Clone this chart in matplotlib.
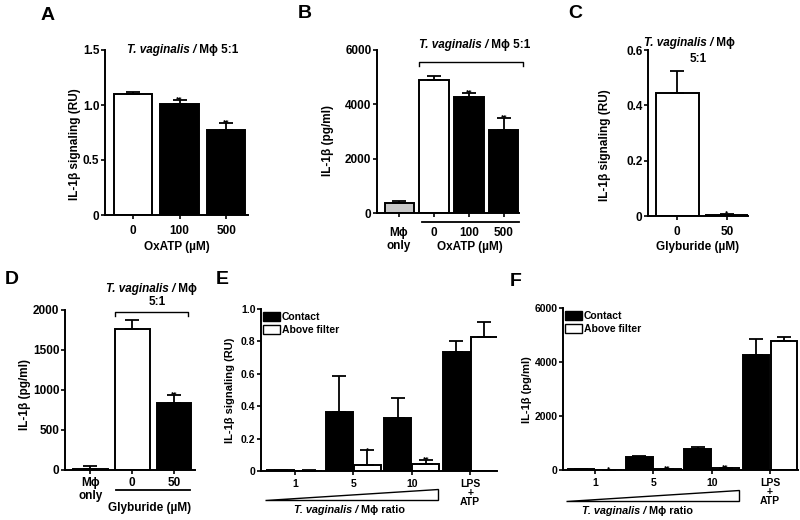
import numpy as np
import matplotlib
matplotlib.use("Agg")
import matplotlib.pyplot as plt
import matplotlib.transforms as mtransforms
from matplotlib.lines import Line2D
from matplotlib.patches import Polygon, Patch

plt.rcParams['font.family'] = ['Liberation Sans', 'DejaVu Sans']
plt.rcParams['font.weight'] = 'bold'
plt.rcParams['axes.labelweight'] = 'bold'

MPHI = 'M\u03d5'

# --- данные ---
# A: IL-1b signaling, OxATP
a_labels = ['0', '100', '500']
a_vals = [1.10, 1.01, 0.77]
a_err = [0.02, 0.04, 0.065]
a_sig = ['', '**', '**']
a_colors = ['white', 'black', 'black']
a_yticks = [0, 0.5, 1.0, 1.5]
a_yticklabels = ['0', '0.5', '1.0', '1.5']

# B: IL-1b pg/ml, OxATP
b_labels = [MPHI + '\nonly', '0', '100', '500']
b_vals = [350, 4880, 4270, 3060]
b_err = [100, 150, 150, 430]
b_sig = ['', '', '**', '**']
b_colors = ['#c8c8c8', 'white', 'black', 'black']
b_yticks = [0, 2000, 4000, 6000]

# C: IL-1b signaling, glyburide
c_labels = ['0', '50']
c_vals = [0.445, 0.003]
c_err = [0.08, 0.004]
c_sig = ['', '*']
c_colors = ['white', 'black']
c_yticks = [0, 0.2, 0.4, 0.6]
c_yticklabels = ['0', '0.2', '0.4', '0.6']

# D: IL-1b pg/ml, glyburide
d_labels = [MPHI + '\nonly', '0', '50']
d_vals = [15, 1760, 840]
d_err = [30, 110, 100]
d_sig = ['', '', '**']
d_colors = ['#c8c8c8', 'white', 'black']
d_yticks = [0, 500, 1000, 1500, 2000]

# E: contact vs above filter, RU
e_groups = ['1', '5', '10', 'LPS\n+\nATP']
e_contact = [0.005, 0.365, 0.33, 0.735]
e_contact_err = [0.002, 0.22, 0.12, 0.07]
e_above = [0.003, 0.037, 0.043, 0.827]
e_above_err = [0.002, 0.09, 0.025, 0.09]
e_above_sig = ['', '*', '**', '']
e_yticks = [0, 0.2, 0.4, 0.6, 0.8, 1.0]
e_yticklabels = ['0', '0.2', '0.4', '0.6', '0.8', '1.0']

# F: contact vs above filter, pg/ml
f_groups = ['1', '5', '10', 'LPS\n+\nATP']
f_contact = [30, 465, 760, 4260]
f_contact_err = [10, 70, 100, 580]
f_above = [10, 30, 60, 4780]
f_above_err = [5, 10, 15, 150]
f_above_sig = ['*', '**', '**', '']
f_yticks = [0, 2000, 4000, 6000]

W, H = 800, 520
fig = plt.figure(figsize=(8, 5.2), dpi=100)
px = mtransforms.Affine2D().scale(1 / W, -1 / H).translate(0, 1) + fig.transFigure


def mk_ax(l, t, r, b):
    return fig.add_axes([l / W, 1 - b / H, (r - l) / W, (b - t) / H])


def style(ax, xpad=2, size=8.5):
    for s in ['top', 'right']:
        ax.spines[s].set_visible(False)
    for s in ['left', 'bottom']:
        ax.spines[s].set_linewidth(1.4)
    ax.tick_params(axis='y', width=1.2, length=3, labelsize=size, pad=1)
    ax.tick_params(axis='x', width=1.2, length=3, labelsize=size, pad=xpad)


def bars(ax, x, vals, err, colors, width, sig, star_size=6):
    ax.bar(x, vals, width, color=colors, edgecolor='black', linewidth=1.4, zorder=2)
    ax.errorbar(x, vals, yerr=[np.zeros(len(vals)), err], fmt='none', ecolor='black',
                elinewidth=1.3, capsize=5, capthick=1.3, zorder=3)
    for xi, v, e, s in zip(x, vals, err, sig):
        if s:
            ax.annotate(s, (xi, v + e), xytext=(0, -2.5), textcoords='offset points',
                        ha='center', va='bottom', fontsize=star_size)


def txt(x, y, s, **kw):
    kw.setdefault('ha', 'center')
    kw.setdefault('va', 'center')
    kw.setdefault('fontsize', 8.5)
    fig.text(x, y, s, transform=px, **kw)


def mixed(x_split, y, ital, rest, size=8.5):
    # italic часть справа до x_split, обычная слева от него
    txt(x_split, y, ital, ha='right', style='italic', fontsize=size)
    txt(x_split, y, rest, ha='left', fontsize=size)


def line(xs, ys, lw=1.0):
    fig.add_artist(Line2D(xs, ys, transform=px, color='black', lw=lw))


# ---------- A ----------
ax = mk_ax(105, 50, 248, 215)
xa = np.arange(len(a_vals))
bars(ax, xa, a_vals, a_err, a_colors, 0.82, a_sig)
ax.set_xlim(-0.6, 2.47)
ax.set_ylim(0, 1.5)
ax.set_yticks(a_yticks, a_yticklabels)
ax.set_xticks(xa, a_labels)
style(ax, xpad=4)
txt(48, 15, 'A', fontsize=14)
txt(75, 144, 'IL-1\u03b2 signaling (RU)', rotation=90)
txt(177, 247, 'OxATP (\u00b5M)')
mixed(196, 50, 'T. vaginalis /', ' ' + MPHI + ' 5:1')

# ---------- B ----------
ax = mk_ax(377, 50, 519, 213)
xb = np.arange(len(b_vals))
bars(ax, xb, b_vals, b_err, b_colors, 0.83, b_sig)
ax.set_xlim(-0.63, 3.43)
ax.set_ylim(0, 6000)
ax.set_yticks(b_yticks)
ax.set_xticks(xb, b_labels, linespacing=1.1)
style(ax, xpad=7)
txt(305, 14, 'B', fontsize=14)
txt(328, 141, 'IL-1\u03b2 (pg/ml)', rotation=90)
txt(470, 247, 'OxATP (\u00b5M)')
mixed(488, 45, 'T. vaginalis /', ' ' + MPHI + ' 5:1')
line([419, 419, 523, 523], [66, 62, 62, 66])
line([422, 519], [222, 222], lw=1.3)

# ---------- C ----------
ax = mk_ax(648, 50, 748, 216)
xc = np.arange(len(c_vals))
bars(ax, xc, c_vals, c_err, c_colors, 0.86, c_sig)
ax.set_xlim(-0.58, 1.42)
ax.set_ylim(0, 0.6)
ax.set_yticks(c_yticks, c_yticklabels)
ax.set_xticks(xc, c_labels)
style(ax, xpad=4)
txt(575, 14, 'C', fontsize=14)
txt(605, 145, 'IL-1\u03b2 signaling (RU)', rotation=90)
txt(698, 247, 'Glyburide (\u00b5M)')
mixed(713, 43, 'T. vaginalis /', ' ' + MPHI)
txt(698, 59, '5:1')

# ---------- D ----------
ax = mk_ax(65, 310, 195, 470)
xd = np.arange(len(d_vals))
bars(ax, xd, d_vals, d_err, d_colors, 0.83, d_sig)
ax.set_xlim(-0.6, 2.5)
ax.set_ylim(0, 2000)
ax.set_yticks(d_yticks)
ax.set_xticks(xd, d_labels, linespacing=1.1)
style(ax, xpad=2)
txt(12, 280, 'D', fontsize=14)
txt(25, 395, 'IL-1\u03b2 (pg/ml)', rotation=90)
txt(150, 508, 'Glyburide (\u00b5M)')
mixed(175, 289, 'T. vaginalis /', ' ' + MPHI)
txt(157, 302, '5:1')
line([115, 115, 188, 188], [316, 312, 312, 316])
line([116, 190], [490, 490], lw=1.3)


# ---------- E, F ----------
def paired(ax, groups, cv, ce, av, ae, asig):
    x = np.arange(len(groups))
    bars(ax, x - 0.24, cv, ce, ['black'] * len(cv), 0.46, [''] * len(cv))
    bars(ax, x + 0.24, av, ae, ['white'] * len(av), 0.46, asig)
    ax.set_xticks(x, groups, linespacing=0.85)
    ax.legend(handles=[Patch(facecolor='black', edgecolor='black', label='Contact'),
                       Patch(facecolor='white', edgecolor='black', label='Above filter')],
              loc='upper left', bbox_to_anchor=(0.01, 0.98), frameon=False, fontsize=7.5,
              handlelength=1.6, handleheight=0.9, handletextpad=0.15, labelspacing=0.3,
              borderaxespad=0, borderpad=0)


ax = mk_ax(261, 309, 497, 471)
paired(ax, e_groups, e_contact, e_contact_err, e_above, e_above_err, e_above_sig)
ax.set_xlim(-0.58, 3.46)
ax.set_ylim(0, 1.0)
ax.set_yticks(e_yticks, e_yticklabels)
style(ax, xpad=3, size=7.5)
txt(222, 279, 'E', fontsize=14)
txt(230, 390, 'IL-1\u03b2 signaling (RU)', rotation=90, fontsize=8)
fig.add_artist(Polygon([(265, 500), (438, 500), (438, 489)], closed=True, transform=px,
                       facecolor='white', edgecolor='black', lw=1.0))
mixed(358, 510, 'T. vaginalis /', ' ' + MPHI + ' ratio', size=7.8)

ax = mk_ax(563, 308, 798, 470)
paired(ax, f_groups, f_contact, f_contact_err, f_above, f_above_err, f_above_sig)
ax.set_xlim(-0.55, 3.48)
ax.set_ylim(0, 6000)
ax.set_yticks(f_yticks)
style(ax, xpad=3, size=7.5)
txt(516, 281, 'F', fontsize=14)
txt(527, 390, 'IL-1\u03b2 (pg/ml)', rotation=90, fontsize=8)
fig.add_artist(Polygon([(566, 501), (739, 501), (739, 490)], closed=True, transform=px,
                       facecolor='white', edgecolor='black', lw=1.0))
mixed(646, 511, 'T. vaginalis /', ' ' + MPHI + ' ratio', size=7.8)

fig.savefig('out.png', dpi=100)
